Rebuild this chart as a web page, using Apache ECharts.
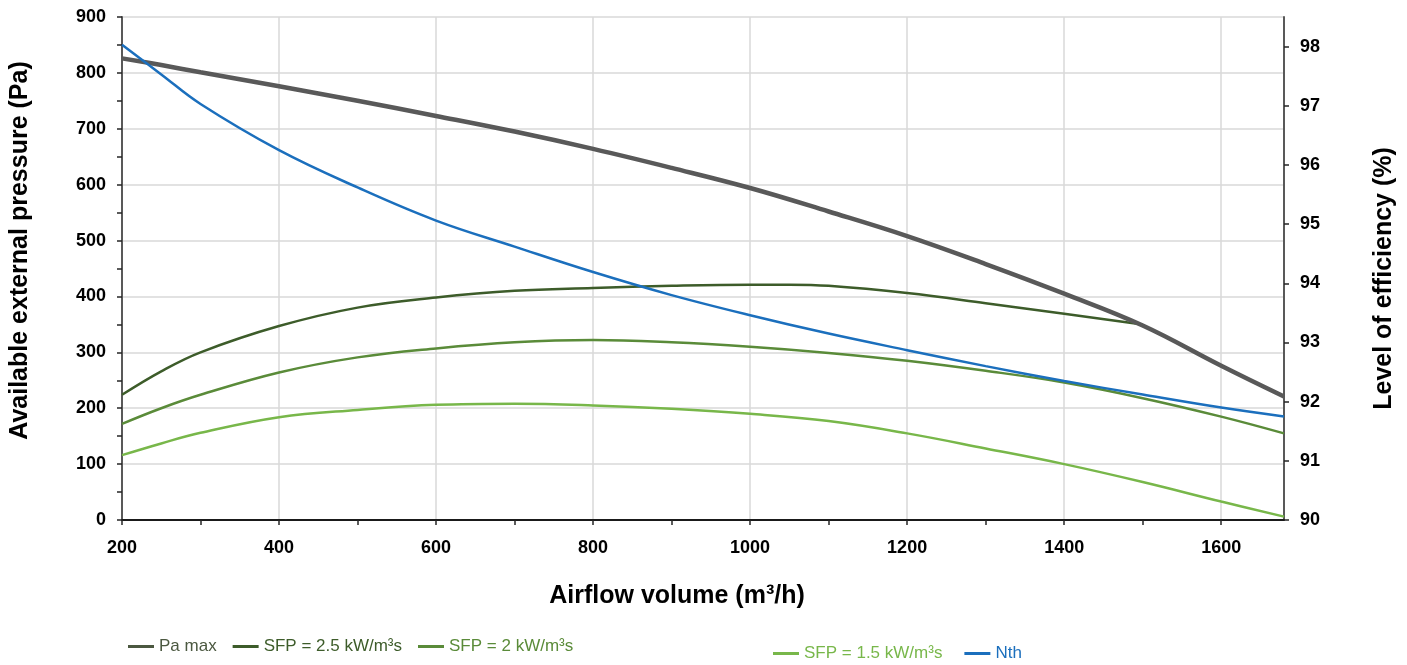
<!DOCTYPE html>
<html>
<head>
<meta charset="utf-8">
<script src="https://cdn.jsdelivr.net/npm/echarts@6/dist/echarts.min.js"></script>
<style>
html,body{margin:0;padding:0;background:#fff;}
#chart{width:1407px;height:665px;}
</style>
</head>
<body>
<div id="chart"></div>
<script>
// Airflow volume (m³/h)
const airflow = [200, 250, 300, 400, 500, 600, 700, 800, 900, 1000, 1100, 1200, 1300, 1400, 1500, 1600, 1680];
const paMax   = [826, 814, 801, 776, 750, 723, 695, 664, 630, 594, 552, 508, 458, 405, 348, 276, 221];
const airflowSfp25 = [200, 250, 300, 400, 500, 600, 700, 800, 900, 1000, 1050, 1100, 1200, 1300, 1400, 1500];
const sfp25   = [224, 266, 300, 347, 380, 398, 410, 415, 419, 421, 421, 419, 406, 388, 369, 350];
const sfp20   = [172, 200, 224, 264, 291, 307, 318, 322, 318, 310, 299, 285, 267, 246, 218, 185, 155];
const sfp15   = [116, 137, 156, 184, 197, 206, 208, 205, 199, 190, 177, 155, 128, 100, 68, 33, 6];
const nth     = [98.03, 97.53, 97.03, 96.25, 95.62, 95.06, 94.62, 94.19, 93.8, 93.46, 93.15, 92.87, 92.6, 92.35, 92.12, 91.9, 91.75];

const seriesNames = ['Pa max', 'SFP = 2.5 kW/m³s', 'SFP = 2 kW/m³s', 'SFP = 1.5 kW/m³s', 'Nth'];
const xTicks = [200, 300, 400, 500, 600, 700, 800, 900, 1000, 1100, 1200, 1300, 1400, 1500, 1600];
const xLabels = [200, 400, 600, 800, 1000, 1200, 1400, 1600];
const leftTicks = [0, 50, 100, 150, 200, 250, 300, 350, 400, 450, 500, 550, 600, 650, 700, 750, 800, 850, 900];
const leftLabels = [0, 100, 200, 300, 400, 500, 600, 700, 800, 900];
const rightTicks = [90, 91, 92, 93, 94, 95, 96, 97, 98];

const C = {
  gray: '#595959', dark: '#3d5c2a', mid: '#5a8b39', light: '#78b74a', blue: '#1b6fbd',
  legPa: '#4b5840'
};
const FONT = '"Liberation Sans", Arial, Helvetica, sans-serif';

function pairs(xs, ys) { return xs.map((x, i) => [x, ys[i]]); }

const chart = echarts.init(document.getElementById('chart'), null, {renderer: 'canvas'});

const axisLabelStyle = {fontFamily: FONT, fontWeight: 'bold', fontSize: 18, color: '#000'};
const nameStyle = {fontFamily: FONT, fontWeight: 'bold', fontSize: 25, color: '#000'};
const tickStyle = {color: '#262626', width: 1.5};
const gridLine = {show: true, lineStyle: {color: '#d9d9d9', width: 1.5}};

const legendItem = (name, color) => ({name: name, icon: 'rect', itemStyle: {color: color}, textStyle: {color: color}});

chart.setOption({
  backgroundColor: '#fff',
  animation: false,
  grid: {left: 122, right: 123, top: 17, bottom: 145, containLabel: false},
  legend: [
    {
      left: 123, top: 633, itemWidth: 26, itemHeight: 3, itemGap: 16,
      textStyle: {fontFamily: FONT, fontSize: 17},
      data: [legendItem(seriesNames[0], C.legPa), legendItem(seriesNames[1], C.dark), legendItem(seriesNames[2], C.mid)]
    },
    {
      left: 768, top: 640, itemWidth: 26, itemHeight: 3, itemGap: 22,
      textStyle: {fontFamily: FONT, fontSize: 17},
      data: [legendItem(seriesNames[3], C.light), legendItem(seriesNames[4], C.blue)]
    }
  ],
  xAxis: [
    {
      type: 'value', min: 200, max: 1680, interval: 200, position: 'bottom',
      name: 'Airflow volume (m³/h)', nameLocation: 'middle', nameGap: 64,
      nameTextStyle: Object.assign({}, nameStyle, {padding: [0, 52, 0, 0]}),
      axisLine: {show: true, lineStyle: {color: '#1a1a1a', width: 2}},
      axisTick: {show: false},
      axisLabel: Object.assign({margin: 19, customValues: xLabels, formatter: v => String(v)}, axisLabelStyle),
      splitLine: gridLine
    },
    {
      type: 'value', min: 200, max: 1680, position: 'bottom',
      axisLine: {show: false},
      axisTick: {show: true, length: 5, customValues: xTicks, lineStyle: tickStyle},
      axisLabel: {show: false},
      splitLine: {show: false}
    }
  ],
  yAxis: [
    {
      type: 'value', min: 0, max: 900, interval: 100, position: 'left',
      name: 'Available external pressure (Pa)', nameLocation: 'middle', nameGap: 89, nameRotate: 90,
      nameTextStyle: Object.assign({}, nameStyle, {padding: [0, 0, 0, 36]}),
      axisLine: {show: true, lineStyle: {color: '#595959', width: 2}},
      axisTick: {show: false},
      axisLabel: Object.assign({margin: 16, customValues: leftLabels}, axisLabelStyle),
      splitLine: gridLine
    },
    {
      type: 'value', min: 90, max: 98.5, interval: 1, position: 'right',
      name: 'Level of efficiency (%)', nameLocation: 'middle', nameGap: 88, nameRotate: 90,
      nameTextStyle: Object.assign({}, nameStyle, {padding: [0, 20, 0, 0]}),
      axisLine: {show: true, lineStyle: {color: '#595959', width: 2}},
      axisTick: {show: true, length: 5, customValues: rightTicks, lineStyle: tickStyle},
      axisLabel: Object.assign({margin: 16, customValues: rightTicks}, axisLabelStyle),
      splitLine: {show: false}
    },
    {
      type: 'value', min: 0, max: 900, position: 'left',
      axisLine: {show: false},
      axisTick: {show: true, length: 5, customValues: leftTicks, lineStyle: tickStyle},
      axisLabel: {show: false},
      splitLine: {show: false}
    }
  ],
  series: [
    {name: seriesNames[0], type: 'line', xAxisIndex: 0, yAxisIndex: 0, data: pairs(airflow, paMax), smooth: 0.4,
     showSymbol: false, color: C.gray, lineStyle: {color: C.gray, width: 4.5}, z: 3},
    {name: seriesNames[1], type: 'line', xAxisIndex: 0, yAxisIndex: 0, data: pairs(airflowSfp25, sfp25), smooth: 0.4,
     showSymbol: false, color: C.dark, lineStyle: {color: C.dark, width: 2.5}, z: 2},
    {name: seriesNames[2], type: 'line', xAxisIndex: 0, yAxisIndex: 0, data: pairs(airflow, sfp20), smooth: 0.4,
     showSymbol: false, color: C.mid, lineStyle: {color: C.mid, width: 2.5}, z: 2},
    {name: seriesNames[3], type: 'line', xAxisIndex: 0, yAxisIndex: 0, data: pairs(airflow, sfp15), smooth: 0.4,
     showSymbol: false, color: C.light, lineStyle: {color: C.light, width: 2.5}, z: 2},
    {name: seriesNames[4], type: 'line', xAxisIndex: 0, yAxisIndex: 1, data: pairs(airflow, nth), smooth: 0.4,
     showSymbol: false, color: C.blue, lineStyle: {color: C.blue, width: 2.5}, z: 4}
  ]
});
</script>
</body>
</html>
